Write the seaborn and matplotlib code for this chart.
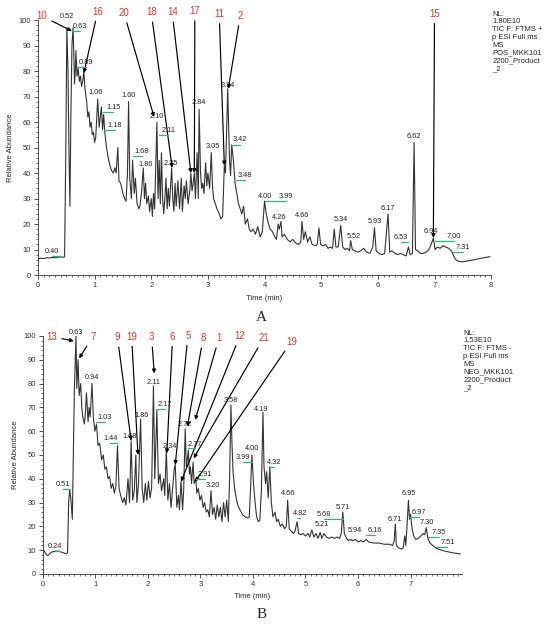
#!/usr/bin/env python3
"""Total ion chromatograms (positive / negative ESI) with annotated peaks."""
import matplotlib
matplotlib.use("Agg")
import matplotlib.pyplot as plt
import seaborn as sns
from matplotlib.ticker import MultipleLocator

# ---- panel A (positive mode) trace ----
A_TIME = [0.00, 0.05, 0.10, 0.15, 0.20, 0.25, 0.30, 0.35, 0.40, 0.45, 0.47, 0.49, 0.51, 0.53, 0.55,
          0.565, 0.58, 0.60, 0.62, 0.635, 0.645, 0.66, 0.67, 0.69, 0.71, 0.73, 0.75, 0.77, 0.79, 0.81,
          0.83, 0.86, 0.88, 0.90, 0.92, 0.94, 0.96, 0.98, 1.00, 1.02, 1.055, 1.08, 1.10, 1.12, 1.14,
          1.16, 1.18, 1.21, 1.24, 1.27, 1.30, 1.33, 1.36, 1.38, 1.41, 1.43, 1.46, 1.50, 1.53, 1.555,
          1.58, 1.60, 1.62, 1.65, 1.67, 1.70, 1.72, 1.75, 1.78, 1.80, 1.83, 1.86, 1.88, 1.90, 1.92,
          1.95, 1.97, 2.00, 2.02, 2.04, 2.06, 2.10, 2.12, 2.14, 2.16, 2.18, 2.20, 2.22, 2.24, 2.26,
          2.28, 2.30, 2.32, 2.36, 2.38, 2.40, 2.42, 2.44, 2.47, 2.50, 2.53, 2.55, 2.58, 2.60, 2.62,
          2.65, 2.68, 2.70, 2.72, 2.74, 2.76, 2.78, 2.81, 2.83, 2.845, 2.87, 2.89, 2.91, 2.93, 2.96,
          2.98, 3.00, 3.03, 3.06, 3.08, 3.10, 3.13, 3.16, 3.20, 3.23, 3.26, 3.29, 3.31, 3.35, 3.38,
          3.40, 3.42, 3.45, 3.48, 3.51, 3.54, 3.57, 3.60, 3.63, 3.66, 3.70, 3.73, 3.76, 3.80, 3.84,
          3.88, 3.92, 3.96, 4.00, 4.03, 4.07, 4.10, 4.14, 4.18, 4.21, 4.24, 4.26, 4.29, 4.31, 4.35,
          4.40, 4.45, 4.50, 4.55, 4.60, 4.64, 4.66, 4.69, 4.72, 4.76, 4.80, 4.84, 4.90, 4.93, 4.96,
          4.99, 5.03, 5.08, 5.12, 5.16, 5.20, 5.23, 5.26, 5.30, 5.345, 5.38, 5.42, 5.46, 5.50, 5.52,
          5.55, 5.60, 5.65, 5.70, 5.75, 5.80, 5.86, 5.91, 5.94, 5.97, 6.02, 6.07, 6.12, 6.18, 6.21,
          6.25, 6.30, 6.35, 6.40, 6.45, 6.50, 6.54, 6.57, 6.61, 6.64, 6.665, 6.70, 6.75, 6.80, 6.85,
          6.90, 6.94, 6.98, 7.01, 7.05, 7.10, 7.15, 7.20, 7.25, 7.30, 7.33, 7.36, 7.40, 7.45, 7.50,
          7.55, 7.60, 7.70, 7.80, 7.90, 7.98]
A_ABUND = [6.4, 6.6, 6.5, 6.8, 6.7, 6.9, 6.8, 7.0, 7.1, 7.0, 7.2, 45, 97, 80, 45,
           27, 60, 90, 97, 85, 75, 80, 88, 78, 81, 76, 78, 74, 76, 80,
           73, 68, 62, 64, 58, 60, 55, 56, 52, 54, 69, 58, 62, 66, 57,
           63, 56, 50, 46, 43, 41, 40, 42, 40, 50, 37, 36, 32, 30, 29,
           40, 68, 38, 30, 45, 32, 38, 28, 26, 27, 33, 42, 30, 36, 28,
           31, 25, 30, 23, 32, 26, 60, 30, 45, 28, 48, 30, 24, 30, 38,
           26, 34, 27, 42, 30, 25, 36, 27, 37, 26, 38, 25, 35, 30, 37,
           28, 33, 40, 33, 36, 40, 30, 48, 30, 65, 40, 34, 36, 32, 44,
           35, 40, 34, 48, 35, 30, 28, 26, 24, 22, 23, 43, 40, 73, 46,
           39, 51, 45, 36, 32, 28, 26, 24, 27, 20, 22, 18, 17, 18, 16,
           19, 15, 17, 29, 24, 20, 18, 17, 15, 14, 20, 18, 21, 15, 16,
           14, 13, 14, 12.5, 12, 13, 21, 14, 17, 13, 15, 12, 11.5, 12, 18.5,
           12, 11.5, 12, 10.5, 11, 10.5, 18, 11, 11, 19.5, 11, 10, 10.5, 9.5, 13.5,
           10, 9.5, 9, 9.5, 10.5, 9, 8.5, 11, 18.5, 9.5, 8.5, 8, 8.5, 24, 9,
           9.5, 8.5, 8, 8.5, 8, 7.5, 11, 8, 8.5, 52, 10, 9.5, 8.5, 8.5, 9,
           10, 12, 14.5, 10, 11, 10.5, 11.5, 11, 10.5, 9.5, 8, 6.5, 5.6, 5.3, 5.2,
           5.4, 5.6, 6.0, 6.5, 6.9, 7.2]

# ---- panel B (negative mode) trace ----
B_TIME = [0.00, 0.03, 0.07, 0.10, 0.14, 0.18, 0.24, 0.30, 0.35, 0.40, 0.45, 0.47, 0.49, 0.51, 0.53,
          0.56, 0.58, 0.60, 0.63, 0.645, 0.67, 0.69, 0.72, 0.74, 0.76, 0.79, 0.81, 0.83, 0.86, 0.88,
          0.90, 0.935, 0.96, 0.99, 1.02, 1.05, 1.08, 1.12, 1.15, 1.18, 1.21, 1.24, 1.27, 1.30, 1.33,
          1.36, 1.39, 1.42, 1.45, 1.48, 1.52, 1.55, 1.58, 1.62, 1.65, 1.68, 1.71, 1.74, 1.77, 1.79,
          1.82, 1.86, 1.89, 1.92, 1.95, 1.98, 2.01, 2.04, 2.07, 2.105, 2.13, 2.17, 2.20, 2.23, 2.26,
          2.30, 2.32, 2.35, 2.38, 2.41, 2.44, 2.47, 2.50, 2.52, 2.55, 2.58, 2.60, 2.63, 2.66, 2.68,
          2.71, 2.73, 2.75, 2.77, 2.79, 2.81, 2.83, 2.86, 2.88, 2.91, 2.93, 2.96, 2.99, 3.02, 3.05,
          3.08, 3.11, 3.14, 3.17, 3.20, 3.23, 3.26, 3.29, 3.32, 3.35, 3.38, 3.41, 3.44, 3.47, 3.50,
          3.53, 3.555, 3.58, 3.60, 3.62, 3.65, 3.68, 3.71, 3.75, 3.80, 3.85, 3.90, 3.93, 3.96, 3.98,
          4.01, 4.04, 4.07, 4.10, 4.13, 4.16, 4.19, 4.21, 4.24, 4.26, 4.29, 4.32, 4.35, 4.38, 4.42,
          4.45, 4.48, 4.52, 4.56, 4.60, 4.635, 4.66, 4.69, 4.73, 4.77, 4.80, 4.84, 4.87, 4.91, 4.95,
          5.00, 5.05, 5.08, 5.12, 5.16, 5.20, 5.24, 5.28, 5.31, 5.35, 5.40, 5.45, 5.50, 5.55, 5.60,
          5.65, 5.68, 5.71, 5.74, 5.78, 5.82, 5.86, 5.90, 5.95, 6.00, 6.05, 6.10, 6.16, 6.20, 6.30,
          6.40, 6.50, 6.60, 6.66, 6.69, 6.71, 6.73, 6.77, 6.82, 6.86, 6.89, 6.91, 6.93, 6.96, 6.98,
          7.00, 7.03, 7.06, 7.10, 7.15, 7.20, 7.24, 7.27, 7.30, 7.33, 7.37, 7.42, 7.48, 7.55, 7.62,
          7.70, 7.78, 7.86, 7.95]
B_ABUND = [10.5, 9.5, 8.0, 7.8, 8.8, 9.3, 9.6, 9.6, 9.2, 8.8, 8.5, 9, 30, 35.5, 32,
           23, 50, 78, 100, 78, 90, 75, 80, 70, 66, 63, 68, 76, 64, 70,
           66, 80, 66, 60, 63, 54, 55, 48, 50, 44, 45, 40, 41, 36, 38,
           34, 37, 54, 36, 33, 30, 32, 29, 40, 30, 56, 31, 35, 50, 30,
           38, 65, 36, 30, 38, 31, 39, 32, 36, 79, 40, 69, 38, 42, 35,
           40, 33, 52, 31, 38, 28, 36, 44, 46, 28, 33, 27, 39, 27, 35,
           61, 45, 48, 52, 42, 45, 38, 47, 38, 40, 34, 36, 31, 33, 28,
           30, 26, 27, 24, 35, 25, 28, 23, 29, 24, 28, 22, 30, 24, 31,
           22, 40, 71, 55, 43, 36, 32, 29, 27, 25, 24, 23.5, 24, 40, 50,
           38, 30, 24, 22, 22.5, 35, 68, 45, 38, 43, 32, 45, 30, 24, 26,
           22, 23, 20, 21, 19, 20, 31, 19, 18, 17, 18, 22, 17, 16.5, 17,
           16, 17, 15.5, 18.5, 15.5, 17, 15, 17.5, 15, 17, 15.5, 15, 15.5, 15, 15.5,
           15, 17, 26, 17, 15, 14, 14.5, 14, 14.5, 13.5, 14, 13.5, 14.5, 13.5, 13,
           13, 12.5, 12.5, 12, 14, 21, 12, 11, 10.5, 11, 16, 12, 19, 31, 23,
           25, 19, 16, 14.5, 15, 16, 17, 16.5, 19.5, 15, 13, 12, 11, 10.3, 9.8,
           9.4, 9.0, 8.7, 8.4]

# ---- peak retention-time labels: text, label time, label abundance, apex (green leader) ----
A_PEAK_TEXT = ["0.52", "0.63", "0.89", "1.06", "1.15", "1.18", "1.60", "1.68", "1.86", "2.10",
               "2.11", "2.35", "2.84", "3.05", "3.34", "3.42", "3.48", "4.00", "3.99", "4.26",
               "4.66", "5.34", "5.52", "5.93", "6.17", "6.53", "6.62", "6.94", "7.00", "7.31", "0.40"]
A_PEAK_T = [0.51, 0.74, 0.84, 1.02, 1.33, 1.36, 1.60, 1.83, 1.90, 2.10,
            2.30, 2.35, 2.84, 3.09, 3.35, 3.57, 3.66, 4.01, 4.38, 4.26,
            4.67, 5.35, 5.57, 5.94, 6.18, 6.40, 6.63, 6.94, 7.34, 7.50, 0.25]
A_PEAK_V = [101.5, 97.4, 83.4, 71.6, 65.8, 58.6, 70.6, 48.4, 43.5, 62,
            56.6, 43.8, 67.7, 50.6, 74.4, 53, 39, 31, 31, 22.6,
            23.4, 21.8, 15.3, 20.9, 26.1, 14.8, 54.2, 17, 15, 10.9, 9.1]
A_PEAK_APEX = [None, 0.60, 0.69, None, 1.14, 1.16, None, 1.67, None, None,
               2.14, None, None, None, None, 3.43, 3.49, None, 4.00, None,
               None, None, None, None, None, 6.54, None, None, 7.00, 7.33, 0.40]

B_PEAK_TEXT = ["0.63", "0.94", "1.03", "1.44", "1.68", "1.86", "2.11", "2.17", "2.34", "2.72",
               "2.77", "2.91", "3.20", "3.58", "4.00", "3.99", "4.19", "4.32", "4.66", "4.82",
               "5.68", "5.21", "5.71", "5.94", "6.16", "6.71", "6.95", "6.97", "7.30", "7.35",
               "7.51", "0.51", "0.24"]
B_PEAK_T = [0.63, 0.93, 1.18, 1.28, 1.66, 1.88, 2.10, 2.32, 2.42, 2.70,
            2.90, 3.09, 3.24, 3.57, 3.98, 3.81, 4.16, 4.40, 4.66, 4.90,
            5.35, 5.32, 5.71, 5.94, 6.32, 6.70, 6.96, 7.16, 7.31, 7.54,
            7.70, 0.38, 0.23]
B_PEAK_V = [101.6, 82.6, 65.8, 56.9, 57.7, 66.5, 80.4, 71.3, 53.5, 63,
            54.6, 41.9, 37.1, 73.1, 52.8, 48.9, 69.2, 46.9, 33.9, 25.5,
            24.8, 20.6, 28, 18.2, 18.2, 23, 33.9, 25.8, 21.6, 17.4,
            13.3, 37.7, 11.5]
B_PEAK_APEX = [None, None, 1.02, 1.42, None, None, None, 2.17, None, None,
               2.77, 2.91, None, None, None, 3.98, None, 4.32, None, 4.84,
               5.71, None, None, None, 6.16, None, None, 6.98, None, 7.33,
               7.50, 0.51, 0.32]

# ---- compound numbers (red) with arrows: label pos, arrow tip ----
A_CMPD = ["10", "16", "20", "18", "14", "17", "11", "2", "15"]
A_CMPD_T = [0.07, 1.055, 1.52, 2.00, 2.37, 2.77, 3.20, 3.57, 7.00]
A_CMPD_V = [101.6, 103.3, 102.7, 103.0, 103.0, 103.5, 102.4, 101.6, 102.4]
A_TIP_T = [0.60, 0.81, 2.05, 2.37, 2.70, 2.76, 3.29, 3.36, 6.98]
A_TIP_V = [95.7, 79.2, 62.0, 42.0, 40.0, 40.0, 43.0, 73.0, 14.5]

B_CMPD = ["13", "7", "9", "19", "3", "6", "5", "8", "1", "12", "21", "19"]
B_CMPD_T = [0.17, 0.95, 1.42, 1.69, 2.07, 2.47, 2.76, 3.05, 3.35, 3.75, 4.20, 4.73]
B_CMPD_V = [99.7, 99.7, 99.4, 99.7, 99.4, 99.7, 100.0, 99.0, 99.0, 100.0, 99.0, 97.6]
B_TIP_T = [0.59, 0.69, 1.68, 1.81, 2.12, 2.36, 2.52, 2.75, 2.90, 2.63, 2.87, 2.90]
B_TIP_V = [97.9, 90.6, 56.0, 50.0, 84.3, 50.7, 45.8, 61.9, 64.7, 38.8, 48.6, 38.8]

A_INFO = "NL:\n1.80E10\nTIC F: FTMS +\np ESI Full ms\nMS\nPOS_MKK101\n2200_Product\n_2"
B_INFO = "NL:\n1.53E10\nTIC F: FTMS -\np ESI Full ms\nMS\nNEG_MKK101\n2200_Product\n_2"

TRACE_COLOR = "#333333"
RED = "#e8322a"
GREEN = "#2fb870"


def draw_panel(ax, times, abund, ptxt, pt, pv, papex, ctxt, ct, cv, tt, tv, xmax, xticks):
    sns.lineplot(x=times, y=abund, ax=ax, sort=False, estimator=None,
                 color=TRACE_COLOR, linewidth=0.8)
    ax.set_xlim(0, xmax)
    ax.set_ylim(0, 100)
    ax.set_xticks(xticks)
    ax.set_yticks(range(0, 101, 10))
    ax.xaxis.set_minor_locator(MultipleLocator(0.1))
    ax.yaxis.set_minor_locator(MultipleLocator(2))
    ax.tick_params(which="major", length=3, width=0.6, labelsize=5.5, pad=2, colors="#333333")
    ax.tick_params(which="minor", length=1.6, width=0.5, colors="#333333")
    ax.set_xlabel("Time (min)", fontsize=5.5, labelpad=4)
    ax.set_ylabel("Relative Abundance", fontsize=5.5, labelpad=3)
    for s in ("left", "bottom"):
        ax.spines[s].set_linewidth(0.6)
        ax.spines[s].set_color("#333333")

    for txt, t, v, apex in zip(ptxt, pt, pv, papex):
        ax.text(t, v, txt, fontsize=5.3, ha="center", va="center", color="#222222", clip_on=False)
        if apex is not None:
            ax.plot([apex, t], [v - 1.8, v - 1.8], color=GREEN, lw=0.9, clip_on=False, zorder=4)

    for txt, t, v, x2, y2 in zip(ctxt, ct, cv, tt, tv):
        ax.annotate(txt, xy=(x2, y2), xytext=(t, v), fontsize=7, color=RED,
                    ha="center", va="center", annotation_clip=False,
                    arrowprops=dict(arrowstyle="-|>", color="black", lw=0.85,
                                    shrinkA=1, shrinkB=0, mutation_scale=5.5))


def main():
    sns.set_style("ticks")
    plt.rcParams["font.family"] = ["Liberation Sans", "DejaVu Sans"]

    fig = plt.figure(figsize=(5.5, 6.28), dpi=100)
    ax_a = fig.add_axes([0.069, 0.562, 0.824, 0.406])
    ax_b = fig.add_axes([0.078, 0.086, 0.762, 0.379])

    draw_panel(ax_a, A_TIME, A_ABUND, A_PEAK_TEXT, A_PEAK_T, A_PEAK_V, A_PEAK_APEX,
               A_CMPD, A_CMPD_T, A_CMPD_V, A_TIP_T, A_TIP_V, 8.0, range(0, 9))
    draw_panel(ax_b, B_TIME, B_ABUND, B_PEAK_TEXT, B_PEAK_T, B_PEAK_V, B_PEAK_APEX,
               B_CMPD, B_CMPD_T, B_CMPD_V, B_TIP_T, B_TIP_V, 7.98, range(0, 8))
    sns.despine(fig=fig)

    fig.text(0.895, 0.983, A_INFO, fontsize=5.5, va="top", ha="left", linespacing=1.15)
    fig.text(0.842, 0.475, B_INFO, fontsize=5.5, va="top", ha="left", linespacing=1.15)
    fig.text(0.476, 0.494, "A", fontsize=11, family="Liberation Serif", ha="center", va="center")
    fig.text(0.476, 0.021, "B", fontsize=11, family="Liberation Serif", ha="center", va="center")

    fig.savefig("out.png", dpi=100)
    plt.close(fig)


if __name__ == "__main__":
    main()
